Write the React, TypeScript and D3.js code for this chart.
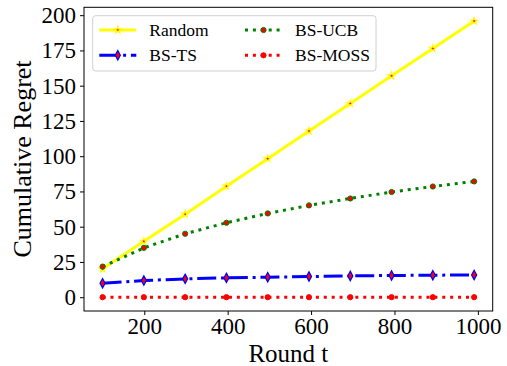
import * as d3 from "d3";
import { useEffect, useRef } from "react";

// rounds at which regret was recorded
const rounds: number[] = [100, 199, 298, 397, 496, 595, 694, 793, 892, 991];
const randomRegret: number[] = [20.1, 39.6, 58.9, 78.7, 98.2, 117.8, 137.4, 157.0, 176.4, 195.8];
const tsRegret: number[] = [9.9, 11.8, 13.0, 13.7, 14.2, 14.6, 15.1, 15.4, 15.6, 15.8];
const ucbRegret: number[] = [21.7, 35.0, 45.0, 52.8, 59.4, 65.1, 70.0, 74.6, 78.5, 82.1];
const mossRegret: number[] = [0, 0, 0, 0, 0, 0, 0, 0, 0, 0];
const xTicks: number[] = [200, 400, 600, 800, 1000];
const yTicks: number[] = [0, 25, 50, 75, 100, 125, 150, 175, 200];

const width = 507;
const height = 366;
const marginLeft = 84;
const marginRight = 14.3;
const marginTop = 7.3;
const marginBottom = 55;
const font = "Liberation Serif, Times New Roman, serif";

interface Series {
  name: string;
  values: number[];
  color: string;
  dash: string | null;
  marker: "star" | "diamond" | "circle";
  markerFill: string;
  markerStroke: string;
}

const series: Series[] = [
  { name: "Random", values: randomRegret, color: "#ffff00", dash: null, marker: "star", markerFill: "#ff0000", markerStroke: "#ffff00" },
  { name: "BS-TS", values: tsRegret, color: "#0000ff", dash: "19,4.8,3,4.8", marker: "diamond", markerFill: "#ff0000", markerStroke: "#0000ff" },
  { name: "BS-UCB", values: ucbRegret, color: "#008000", dash: "3,4.9", marker: "circle", markerFill: "#ff0000", markerStroke: "#008000" },
  { name: "BS-MOSS", values: mossRegret, color: "#ff0000", dash: "3,4.9", marker: "circle", markerFill: "#ff0000", markerStroke: "#ff0000" },
];

const drawMarker = (g: d3.Selection<SVGGElement, unknown, null, undefined>, s: Series, cx: number, cy: number) => {
  if (s.marker === "star") {
    g.append("path")
      .attr("d", d3.symbol().type(d3.symbolStar).size(14)())
      .attr("transform", `translate(${cx},${cy})`)
      .attr("fill", s.markerFill)
      .attr("stroke", s.markerStroke)
      .attr("stroke-width", 1.2);
  } else if (s.marker === "diamond") {
    g.append("path")
      .attr("d", d3.symbol().type(d3.symbolDiamond).size(40)())
      .attr("transform", `translate(${cx},${cy}) scale(0.75,0.8)`)
      .attr("fill", s.markerFill)
      .attr("stroke", s.markerStroke)
      .attr("stroke-width", 1.6);
  } else {
    g.append("circle")
      .attr("cx", cx)
      .attr("cy", cy)
      .attr("r", 2.6)
      .attr("fill", s.markerFill)
      .attr("stroke", s.markerStroke)
      .attr("stroke-width", 1);
  }
};

export default function App() {
  const svgRef = useRef<SVGSVGElement>(null);

  useEffect(() => {
    const svg = d3.select(svgRef.current);
    svg.selectAll("*").remove();

    const x = d3.scaleLinear().domain([55.45, 1035.55]).range([marginLeft, width - marginRight]);
    const y = d3.scaleLinear().domain([-9.79, 205.59]).range([height - marginBottom, marginTop]);

    // lines and markers
    const plot = svg.append("g");
    series.forEach((s) => {
      const line = d3
        .line<number>()
        .x((_, i) => x(rounds[i]))
        .y((d) => y(d));
      plot
        .append("path")
        .datum(s.values)
        .attr("d", line)
        .attr("fill", "none")
        .attr("stroke", s.color)
        .attr("stroke-width", 3)
        .attr("stroke-dasharray", s.dash ?? null);
      const mg = plot.append("g");
      s.values.forEach((v, i) => drawMarker(mg, s, x(rounds[i]), y(v)));
    });

    // axes
    const xAxis = svg
      .append("g")
      .attr("transform", `translate(0,${height - marginBottom})`)
      .call(d3.axisBottom(x).tickValues(xTicks).tickSize(4).tickPadding(3).tickFormat(d3.format("d")));
    const yAxis = svg
      .append("g")
      .attr("transform", `translate(${marginLeft},0)`)
      .call(d3.axisLeft(y).tickValues(yTicks).tickSize(4).tickPadding(4).tickFormat(d3.format("d")));
    [xAxis, yAxis].forEach((a) => {
      a.select(".domain").remove();
      a.attr("font-family", font).attr("font-size", 23);
      a.selectAll("text").style("font-family", font).style("font-size", "23px").attr("fill", "#000");
      a.selectAll("line").attr("stroke", "#000").attr("stroke-width", 1);
    });

    // frame
    svg
      .append("rect")
      .attr("x", marginLeft)
      .attr("y", marginTop)
      .attr("width", width - marginLeft - marginRight)
      .attr("height", height - marginTop - marginBottom)
      .attr("fill", "none")
      .attr("stroke", "#000")
      .attr("stroke-width", 1);

    // axis titles
    svg
      .append("text")
      .attr("x", (marginLeft + width - marginRight) / 2)
      .attr("y", 362)
      .attr("text-anchor", "middle")
      .style("font-family", font)
      .style("font-size", "25px")
      .text("Round t");
    svg
      .append("text")
      .attr("transform", `translate(31,${159}) rotate(-90)`)
      .attr("text-anchor", "middle")
      .style("font-family", font)
      .style("font-size", "26px")
      .text("Cumulative Regret");

    // legend
    const legend = svg.append("g");
    legend
      .append("rect")
      .attr("x", 92.7)
      .attr("y", 15.7)
      .attr("width", 283.3)
      .attr("height", 55.3)
      .attr("rx", 3)
      .attr("fill", "#fff")
      .attr("fill-opacity", 0.8)
      .attr("stroke", "#d0d0d0")
      .attr("stroke-width", 1);
    const cols = [99.3, 245];
    const rows = [30, 55.3];
    series.forEach((s, i) => {
      const lx = cols[Math.floor(i / 2)];
      const ly = rows[i % 2];
      legend
        .append("line")
        .attr("x1", lx)
        .attr("x2", lx + 37)
        .attr("y1", ly)
        .attr("y2", ly)
        .attr("stroke", s.color)
        .attr("stroke-width", 3)
        .attr("stroke-dasharray", s.dash ?? null);
      drawMarker(legend, s, lx + 18.5, ly);
      legend
        .append("text")
        .attr("x", lx + 50)
        .attr("y", ly)
        .attr("dy", "0.35em")
        .style("font-family", font)
        .style("font-size", "17.5px")
        .text(s.name);
    });
  }, []);

  return (
    <svg
      ref={svgRef}
      width={width}
      height={height}
      style={{ position: "absolute", left: 0, top: 0, background: "#fff" }}
    />
  );
}
